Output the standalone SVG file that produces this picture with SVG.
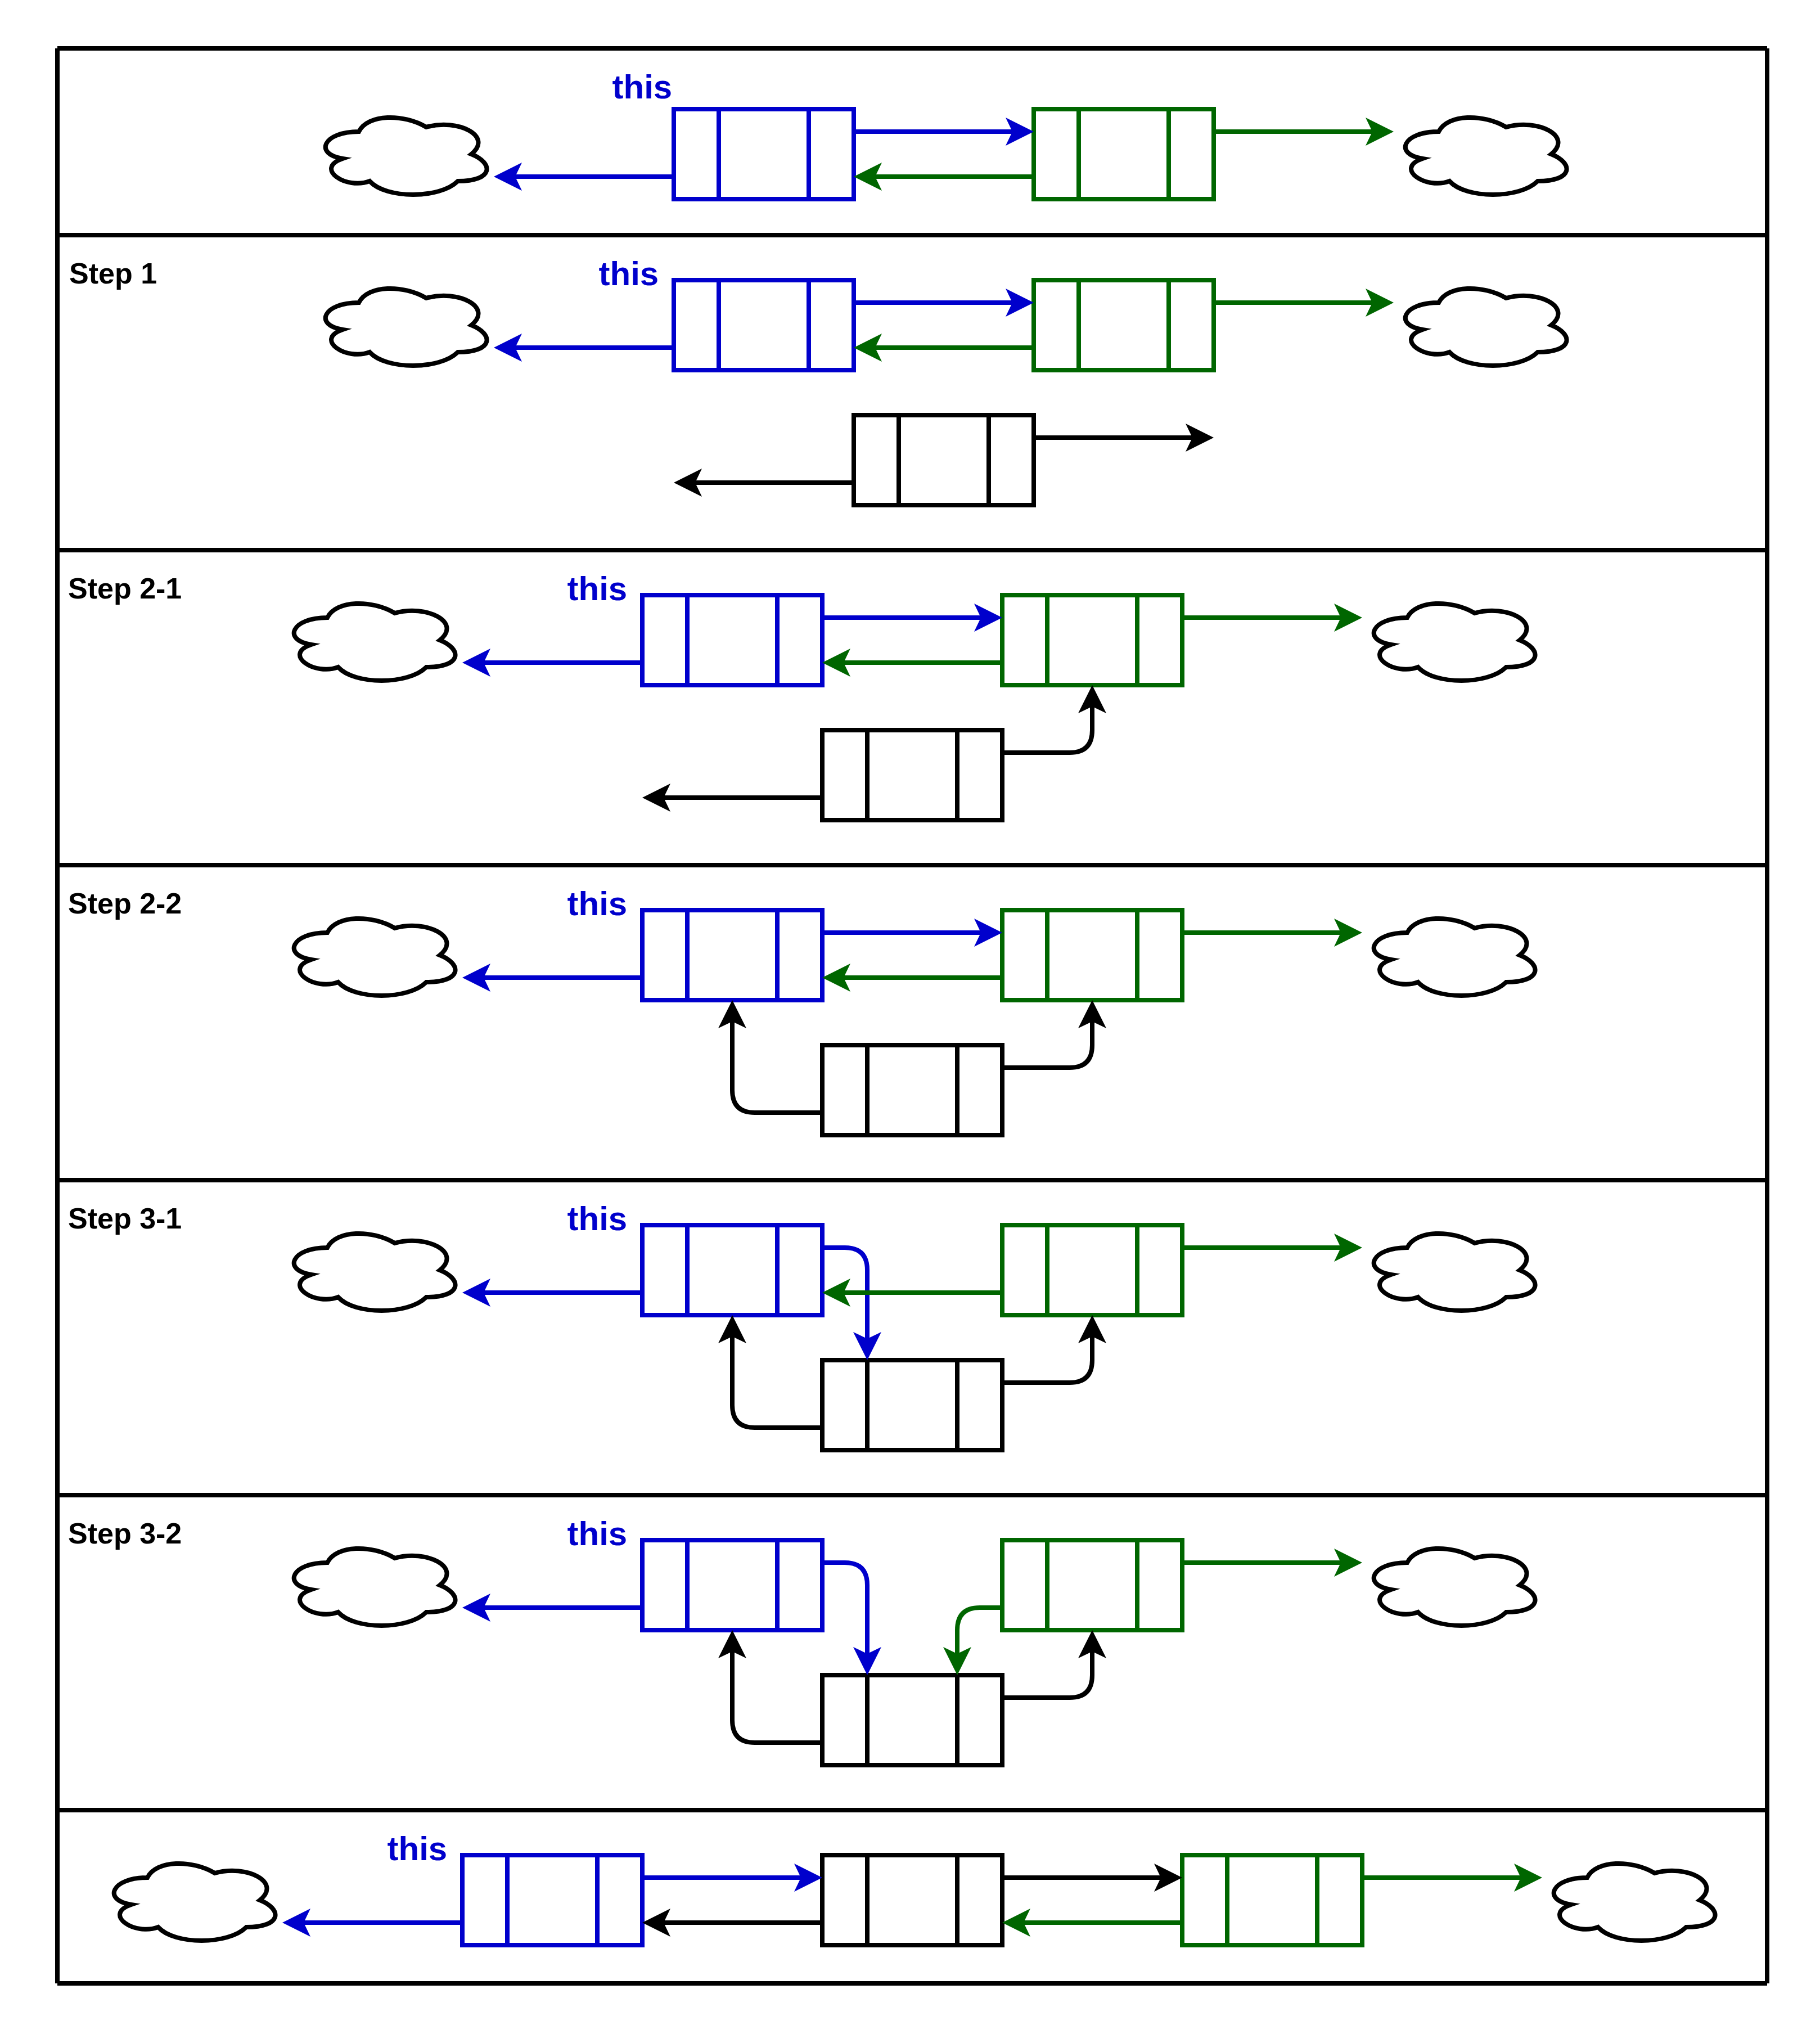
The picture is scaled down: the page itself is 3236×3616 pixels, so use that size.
<svg xmlns="http://www.w3.org/2000/svg" width="3236" height="3616" viewBox="0 0 3236 3616">
<style>
.frame{stroke:#000;stroke-width:8;fill:none}
.box{fill:#fff;stroke-width:8}
.box rect,.box line{stroke:inherit}
.blue{stroke:#0000CC}
.green{stroke:#006600}
.black{stroke:#000}
.cloud{fill:#fff;stroke:#000;stroke-width:8;stroke-miterlimit:10}
.c{fill:none;stroke-width:8}
.c.blue{marker-end:url(#ab)}
.c.green{marker-end:url(#ag)}
.c.black{marker-end:url(#ak)}
.this{font-family:"Liberation Sans",Arial,sans-serif;font-weight:bold;font-size:60px;fill:#0000CC}
.step{font-family:"Liberation Sans",Arial,sans-serif;font-weight:bold;font-size:52px;fill:#000}
</style>
<defs>
<path id="cl" class="cloud" d="M80 40C16 40 0 80 51.2 88C0 105.6 57.6 144 99.2 128C128 160 224 160 256 128C320 128 320 96 280 80C320 48 256 16 200 32C160 8 96 8 80 40Z"/>
<g id="bx"><rect width="320" height="160"/><line x1="80" y1="0" x2="80" y2="160"/><line x1="240" y1="0" x2="240" y2="160"/></g>
<marker id="ab" markerUnits="userSpaceOnUse" markerWidth="52" markerHeight="52" viewBox="0 0 52 52" refX="14" refY="26" orient="auto"><path d="M50 26L0 1L12 26L0 51Z" fill="#0000CC"/></marker>
<marker id="ag" markerUnits="userSpaceOnUse" markerWidth="52" markerHeight="52" viewBox="0 0 52 52" refX="14" refY="26" orient="auto"><path d="M50 26L0 1L12 26L0 51Z" fill="#006600"/></marker>
<marker id="ak" markerUnits="userSpaceOnUse" markerWidth="52" markerHeight="52" viewBox="0 0 52 52" refX="14" refY="26" orient="auto"><path d="M50 26L0 1L12 26L0 51Z" fill="#000"/></marker>
</defs>
<rect width="3236" height="3616" fill="#fff"/>
<g id="frame" class="frame">
<line x1="102" y1="86" x2="102" y2="3526"/><line x1="3142" y1="86" x2="3142" y2="3526"/>
<line x1="102" y1="86" x2="3142" y2="86"/><line x1="102" y1="418" x2="3142" y2="418"/><line x1="102" y1="978" x2="3142" y2="978"/><line x1="102" y1="1538" x2="3142" y2="1538"/><line x1="102" y1="2098" x2="3142" y2="2098"/><line x1="102" y1="2658" x2="3142" y2="2658"/><line x1="102" y1="3218" x2="3142" y2="3218"/><line x1="102" y1="3526" x2="3142" y2="3526"/>
</g>
<g id="labels">
<text class="step" x="123" y="504">Step 1</text>
<text class="step" x="121" y="1064">Step 2-1</text>
<text class="step" x="121" y="1624">Step 2-2</text>
<text class="step" x="121" y="2184">Step 3-1</text>
<text class="step" x="121" y="2744">Step 3-2</text>
<text class="this" x="1088.5" y="175">this</text>
<text class="this" x="1064.5" y="507">this</text>
<text class="this" x="1008.5" y="1067">this</text>
<text class="this" x="1008.5" y="1627">this</text>
<text class="this" x="1008.5" y="2187">this</text>
<text class="this" x="1008.5" y="2747">this</text>
<text class="this" x="688.5" y="3307">this</text>
</g>
<g id="p0">
<g id="p0-cloud-l"><use href="#cl" x="558" y="194"/></g>
<g id="p0-cloud-r"><use href="#cl" x="2478" y="194"/></g>
<g id="p0-blue" class="box blue"><use href="#bx" x="1198" y="194"/></g>
<g id="p0-green" class="box green"><use href="#bx" x="1838" y="194"/></g>
</g>
<g id="p1">
<g id="p1-cloud-l"><use href="#cl" x="558" y="498"/></g>
<g id="p1-cloud-r"><use href="#cl" x="2478" y="498"/></g>
<g id="p1-blue" class="box blue"><use href="#bx" x="1198" y="498"/></g>
<g id="p1-green" class="box green"><use href="#bx" x="1838" y="498"/></g>
<g id="p1-black" class="box black"><use href="#bx" x="1518" y="738"/></g>
</g>
<g id="p2">
<g id="p2-cloud-l"><use href="#cl" x="502" y="1058"/></g>
<g id="p2-cloud-r"><use href="#cl" x="2422" y="1058"/></g>
<g id="p2-blue" class="box blue"><use href="#bx" x="1142" y="1058"/></g>
<g id="p2-green" class="box green"><use href="#bx" x="1782" y="1058"/></g>
<g id="p2-black" class="box black"><use href="#bx" x="1462" y="1298"/></g>
</g>
<g id="p3">
<g id="p3-cloud-l"><use href="#cl" x="502" y="1618"/></g>
<g id="p3-cloud-r"><use href="#cl" x="2422" y="1618"/></g>
<g id="p3-blue" class="box blue"><use href="#bx" x="1142" y="1618"/></g>
<g id="p3-green" class="box green"><use href="#bx" x="1782" y="1618"/></g>
<g id="p3-black" class="box black"><use href="#bx" x="1462" y="1858"/></g>
</g>
<g id="p4">
<g id="p4-cloud-l"><use href="#cl" x="502" y="2178"/></g>
<g id="p4-cloud-r"><use href="#cl" x="2422" y="2178"/></g>
<g id="p4-blue" class="box blue"><use href="#bx" x="1142" y="2178"/></g>
<g id="p4-green" class="box green"><use href="#bx" x="1782" y="2178"/></g>
<g id="p4-black" class="box black"><use href="#bx" x="1462" y="2418"/></g>
</g>
<g id="p5">
<g id="p5-cloud-l"><use href="#cl" x="502" y="2738"/></g>
<g id="p5-cloud-r"><use href="#cl" x="2422" y="2738"/></g>
<g id="p5-blue" class="box blue"><use href="#bx" x="1142" y="2738"/></g>
<g id="p5-green" class="box green"><use href="#bx" x="1782" y="2738"/></g>
<g id="p5-black" class="box black"><use href="#bx" x="1462" y="2978"/></g>
</g>
<g id="p6">
<g id="p6-cloud-l"><use href="#cl" x="182" y="3298"/></g>
<g id="p6-cloud-r"><use href="#cl" x="2742" y="3298"/></g>
<g id="p6-blue" class="box blue"><use href="#bx" x="822" y="3298"/></g>
<g id="p6-black" class="box black"><use href="#bx" x="1462" y="3298"/></g>
<g id="p6-green" class="box green"><use href="#bx" x="2102" y="3298"/></g>
</g>
<g id="connectors">
<path class="c blue" d="M1518 234H1802"/><path class="c green" d="M1838 314H1554"/><path class="c blue" d="M1198 314H914"/><path class="c green" d="M2158 234H2442"/>
<path class="c blue" d="M1518 538H1802"/><path class="c green" d="M1838 618H1554"/><path class="c blue" d="M1198 618H914"/><path class="c green" d="M2158 538H2442"/>
<path class="c black" d="M1838 778H2122"/><path class="c black" d="M1518 858H1234"/>
<path class="c blue" d="M1462 1098H1746"/><path class="c green" d="M1782 1178H1498"/><path class="c blue" d="M1142 1178H858"/><path class="c green" d="M2102 1098H2386"/>
<path class="c black" d="M1462 1418H1178"/><path class="c black" d="M1782 1338H1902Q1942 1338 1942 1298V1254"/>
<path class="c blue" d="M1462 1658H1746"/><path class="c green" d="M1782 1738H1498"/><path class="c blue" d="M1142 1738H858"/><path class="c green" d="M2102 1658H2386"/>
<path class="c black" d="M1462 1978H1342Q1302 1978 1302 1938V1814"/><path class="c black" d="M1782 1898H1902Q1942 1898 1942 1858V1814"/>
<path class="c blue" d="M1462 2218H1502Q1542 2218 1542 2258V2382"/><path class="c green" d="M1782 2298H1498"/><path class="c blue" d="M1142 2298H858"/><path class="c green" d="M2102 2218H2386"/>
<path class="c black" d="M1462 2538H1342Q1302 2538 1302 2498V2374"/><path class="c black" d="M1782 2458H1902Q1942 2458 1942 2418V2374"/>
<path class="c blue" d="M1462 2778H1502Q1542 2778 1542 2818V2942"/><path class="c green" d="M1782 2858H1742Q1702 2858 1702 2898V2942"/><path class="c blue" d="M1142 2858H858"/><path class="c green" d="M2102 2778H2386"/>
<path class="c black" d="M1462 3098H1342Q1302 3098 1302 3058V2934"/><path class="c black" d="M1782 3018H1902Q1942 3018 1942 2978V2934"/>
<path class="c blue" d="M1142 3338H1426"/><path class="c black" d="M1462 3418H1178"/><path class="c black" d="M1782 3338H2066"/><path class="c green" d="M2102 3418H1818"/><path class="c green" d="M2422 3338H2706"/><path class="c blue" d="M822 3418H538"/>
</g>
</svg>
